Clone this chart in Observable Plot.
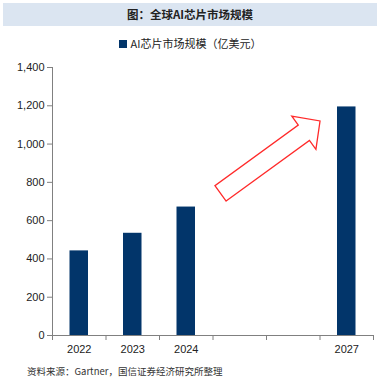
<!DOCTYPE html>
<html><head><meta charset="utf-8">
<script src="https://cdn.jsdelivr.net/npm/d3@7"></script>
<script src="https://cdn.jsdelivr.net/npm/@observablehq/plot@0.6"></script>
<style>
html,body{margin:0;padding:0;background:#fff;}
#wrap{width:380px;height:380px;position:relative;overflow:hidden;font-family:"Noto Sans CJK SC","Liberation Sans",sans-serif;}
#title{position:absolute;left:3px;top:3px;width:374px;height:23px;background:#dbe5f1;text-align:center;line-height:23px;font-size:11.5px;font-weight:bold;color:#222;}
#legend{position:absolute;left:0;top:35px;width:380px;text-align:center;font-size:11px;color:#222;line-height:16px;}
#legend span.sw{display:inline-block;width:8px;height:8px;background:#02356a;margin-right:4px;vertical-align:0px;}
#chart{position:absolute;left:0;top:55px;}
#caption{position:absolute;left:27px;top:364px;font-size:9.5px;color:#333;line-height:14px;}
</style></head>
<body><div id="wrap">
<div id="title">图：全球AI芯片市场规模</div>
<div id="legend"><span class="sw"></span>AI芯片市场规模（亿美元）</div>
<div id="chart"></div>
<div id="caption">资料来源：Gartner，国信证券经济研究所整理</div>
</div>
<script>
const years = [2022, 2023, 2024, 2027];
const values = [442, 534, 671, 1194];
const yTicks = [0, 200, 400, 600, 800, 1000, 1200, 1400];
const seriesName = "AI芯片市场规模（亿美元）";

const data = years.map((y, i) => ({year: y, value: values[i]}));
const xMin = d3.min(years) - 0.5, xMax = d3.max(years) + 0.5;
const bounds = d3.range(xMin, xMax + 0.01, 1);

function blockArrow(from, to) {
  return (index, scales) => {
    const x0 = scales.x(from[0]), y0 = scales.y(from[1]);
    const x1 = scales.x(to[0]), y1 = scales.y(to[1]);
    const dx = x1 - x0, dy = y1 - y0, L = Math.hypot(dx, dy);
    const ux = dx / L, uy = dy / L, nx = -uy, ny = ux;
    const w = 9.5, H = 20.5, hl = 20;
    const jx = x1 - ux * hl, jy = y1 - uy * hl;
    const pts = [
      [x0 + nx * w, y0 + ny * w], [jx + nx * w, jy + ny * w], [jx + nx * H, jy + ny * H],
      [x1, y1], [jx - nx * H, jy - ny * H], [jx - nx * w, jy - ny * w], [x0 - nx * w, y0 - ny * w]
    ];
    return d3.create("svg:path")
      .attr("d", "M" + pts.map(p => p.join(",")).join("L") + "Z")
      .attr("fill", "#fff").attr("stroke", "#ff2a2a").attr("stroke-width", 1.3)
      .attr("stroke-linejoin", "miter").node();
  };
}

const chart = Plot.plot({
  width: 380, height: 307,
  marginTop: 12, marginBottom: 27, marginLeft: 52, marginRight: 7,
  style: {fontFamily: "'Liberation Sans', Arial, sans-serif", fontSize: "11px", color: "#222", background: "transparent"},
  x: {type: "linear", domain: [xMin, xMax]},
  y: {domain: [0, 1400]},
  marks: [
    Plot.rectY(data, {x1: d => d.year - 0.5, x2: d => d.year + 0.5, y: "value", insetLeft: 17.5, insetRight: 17.5, fill: "#02356a"}),
    Plot.ruleX([xMin], {stroke: "#808080"}),
    Plot.ruleY([0], {stroke: "#808080"}),
    Plot.axisY({ticks: yTicks, tickSize: 5, tickPadding: 3, tickFormat: d3.format(","), stroke: "#808080", label: null}),
    Plot.axisX({ticks: bounds, tickSize: 5, tickFormat: () => "", stroke: "#808080", label: null}),
    Plot.axisX({ticks: years, tickSize: 0, tickPadding: 10, tickFormat: d => String(d), label: null}),
    blockArrow([2024.65, 740], [2026.51, 1118])
  ]
});
document.getElementById("chart").appendChild(chart);
</script>
</body></html>
